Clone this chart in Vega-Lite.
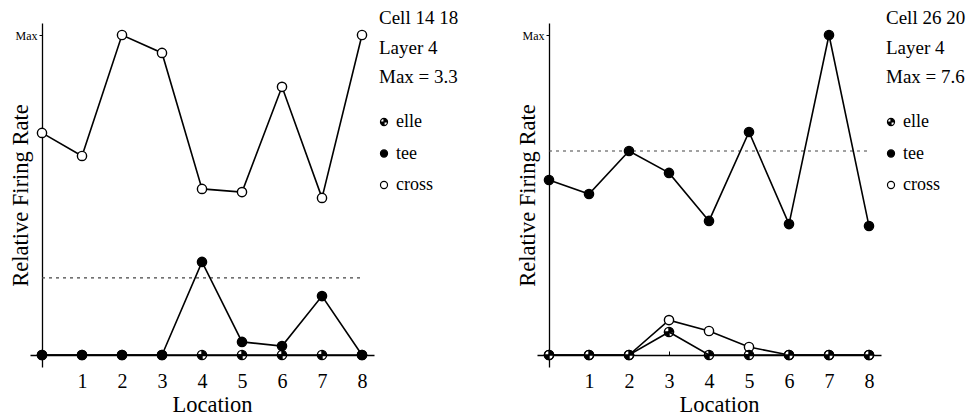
{
  "$schema": "https://vega.github.io/schema/vega-lite/v6.json",
  "padding": {"left": 9, "top": 9, "right": 0, "bottom": 6},
  "background": "white",
  "datasets": {
    "left": [
      {"location": 0, "series": "cross", "rate": 0.694},
      {"location": 1, "series": "cross", "rate": 0.622},
      {"location": 2, "series": "cross", "rate": 1.0},
      {"location": 3, "series": "cross", "rate": 0.944},
      {"location": 4, "series": "cross", "rate": 0.519},
      {"location": 5, "series": "cross", "rate": 0.509},
      {"location": 6, "series": "cross", "rate": 0.838},
      {"location": 7, "series": "cross", "rate": 0.491},
      {"location": 8, "series": "cross", "rate": 1.0},
      {"location": 0, "series": "elle", "rate": 0},
      {"location": 1, "series": "elle", "rate": 0},
      {"location": 2, "series": "elle", "rate": 0},
      {"location": 3, "series": "elle", "rate": 0},
      {"location": 4, "series": "elle", "rate": 0},
      {"location": 5, "series": "elle", "rate": 0},
      {"location": 6, "series": "elle", "rate": 0},
      {"location": 7, "series": "elle", "rate": 0},
      {"location": 8, "series": "elle", "rate": 0},
      {"location": 0, "series": "tee", "rate": 0},
      {"location": 1, "series": "tee", "rate": 0},
      {"location": 2, "series": "tee", "rate": 0},
      {"location": 3, "series": "tee", "rate": 0},
      {"location": 4, "series": "tee", "rate": 0.291},
      {"location": 5, "series": "tee", "rate": 0.041},
      {"location": 6, "series": "tee", "rate": 0.028},
      {"location": 7, "series": "tee", "rate": 0.184},
      {"location": 8, "series": "tee", "rate": 0}
    ],
    "right": [
      {"location": 0, "series": "cross", "rate": 0},
      {"location": 1, "series": "cross", "rate": 0},
      {"location": 2, "series": "cross", "rate": 0},
      {"location": 3, "series": "cross", "rate": 0.109},
      {"location": 4, "series": "cross", "rate": 0.075},
      {"location": 5, "series": "cross", "rate": 0.025},
      {"location": 6, "series": "cross", "rate": 0},
      {"location": 7, "series": "cross", "rate": 0},
      {"location": 8, "series": "cross", "rate": 0},
      {"location": 0, "series": "elle", "rate": 0},
      {"location": 1, "series": "elle", "rate": 0},
      {"location": 2, "series": "elle", "rate": 0},
      {"location": 3, "series": "elle", "rate": 0.072},
      {"location": 4, "series": "elle", "rate": 0},
      {"location": 5, "series": "elle", "rate": 0},
      {"location": 6, "series": "elle", "rate": 0},
      {"location": 7, "series": "elle", "rate": 0},
      {"location": 8, "series": "elle", "rate": 0},
      {"location": 0, "series": "tee", "rate": 0.547},
      {"location": 1, "series": "tee", "rate": 0.503},
      {"location": 2, "series": "tee", "rate": 0.6375},
      {"location": 3, "series": "tee", "rate": 0.569},
      {"location": 4, "series": "tee", "rate": 0.419},
      {"location": 5, "series": "tee", "rate": 0.697},
      {"location": 6, "series": "tee", "rate": 0.409},
      {"location": 7, "series": "tee", "rate": 1.0},
      {"location": 8, "series": "tee", "rate": 0.403}
    ]
  },
  "hconcat": [
    {
      "width": 344,
      "height": 344,
      "data": {"name": "left"},
      "layer": [
        {
          "data": {"values": [{"level": 0.241, "start": 0, "end": 8.05}]},
          "mark": {"type": "rule", "strokeDash": [3, 4], "color": "#444444", "strokeWidth": 1.2},
          "encoding": {
            "x": {"field": "start", "type": "quantitative", "title": "Location"},
            "x2": {"field": "end"},
            "y": {"field": "level", "type": "quantitative", "title": "Relative Firing Rate"}
          }
        },
        {
          "mark": {"type": "line", "color": "black", "strokeWidth": 1.6},
          "encoding": {
            "x": {"field": "location", "type": "quantitative", "title": "Location",
              "scale": {"domain": [-0.3, 8.3], "nice": false, "zero": false},
              "axis": {"orient": "bottom", "offset": -12, "values": [1, 2, 3, 4, 5, 6, 7, 8], "tickSize": -4, "labelPadding": 36, "labelBaseline": "alphabetic", "labelFontSize": 20, "titleFontSize": 22.5, "titleX": 182, "titleY": 56, "titleBaseline": "alphabetic", "domainWidth": 1.3, "labelAngle": 0}},
            "y": {"field": "rate", "type": "quantitative", "title": "Relative Firing Rate",
              "scale": {"domain": [-0.0375, 1.0375], "nice": false, "zero": false},
              "axis": {"orient": "left", "offset": -12, "values": [1], "labelExpr": "'Max'", "tickSize": 3, "labelPadding": 2, "labelFontSize": 12, "titleFontSize": 22.5, "titleX": -10, "domainWidth": 1.3}},
            "detail": {"field": "series"}
          }
        },
        {
          "mark": {"type": "point", "stroke": "black", "strokeWidth": 1.4, "size": 85, "opacity": 1},
          "encoding": {
            "x": {"field": "location", "type": "quantitative", "title": "Location"},
            "y": {"field": "rate", "type": "quantitative", "title": "Relative Firing Rate"},
            "shape": {"field": "series", "type": "nominal",
              "scale": {"domain": ["elle", "tee", "cross"], "range": ["M1,0A1,1,0,1,1,-1,0A1,1,0,1,1,1,0Z M0,0L0,-1A1,1,0,0,0,-1,0Z M0,0L0,1A1,1,0,0,0,1,0Z", "circle", "circle"]},
              "legend": {"orient": "none", "legendX": 349, "legendY": -14, "title": ["Cell 14 18", "Layer 4", "Max = 3.3"], "titleFontSize": 19, "titleFontWeight": "normal", "titleLineHeight": 29.5, "titlePadding": 26, "labelFontSize": 18, "symbolSize": 50, "rowPadding": 13.5, "labelOffset": 3, "symbolOffset": -4, "symbolStrokeWidth": 1.2, "padding": 0}},
            "fill": {"field": "series", "type": "nominal",
              "scale": {"domain": ["elle", "tee", "cross"], "range": ["black", "black", "white"]},
              "legend": {"orient": "none", "legendX": 349, "legendY": -14, "title": ["Cell 14 18", "Layer 4", "Max = 3.3"], "titleFontSize": 19, "titleFontWeight": "normal", "titleLineHeight": 29.5, "titlePadding": 26, "labelFontSize": 18, "symbolSize": 50, "rowPadding": 13.5, "labelOffset": 3, "symbolOffset": -4, "symbolStrokeWidth": 1.2, "padding": 0}}
          }
        }
      ]
    },
    {
      "width": 344,
      "height": 344,
      "data": {"name": "right"},
      "layer": [
        {
          "data": {"values": [{"level": 0.6375, "start": 0, "end": 8.05}]},
          "mark": {"type": "rule", "strokeDash": [3, 4], "color": "#444444", "strokeWidth": 1.2},
          "encoding": {
            "x": {"field": "start", "type": "quantitative", "title": "Location"},
            "x2": {"field": "end"},
            "y": {"field": "level", "type": "quantitative", "title": "Relative Firing Rate"}
          }
        },
        {
          "mark": {"type": "line", "color": "black", "strokeWidth": 1.6},
          "encoding": {
            "x": {"field": "location", "type": "quantitative", "title": "Location",
              "scale": {"domain": [-0.3, 8.3], "nice": false, "zero": false},
              "axis": {"orient": "bottom", "offset": -12, "values": [1, 2, 3, 4, 5, 6, 7, 8], "tickSize": -4, "labelPadding": 36, "labelBaseline": "alphabetic", "labelFontSize": 20, "titleFontSize": 22.5, "titleX": 182, "titleY": 56, "titleBaseline": "alphabetic", "domainWidth": 1.3, "labelAngle": 0}},
            "y": {"field": "rate", "type": "quantitative", "title": "Relative Firing Rate",
              "scale": {"domain": [-0.0375, 1.0375], "nice": false, "zero": false},
              "axis": {"orient": "left", "offset": -12, "values": [1], "labelExpr": "'Max'", "tickSize": 3, "labelPadding": 2, "labelFontSize": 12, "titleFontSize": 22.5, "titleX": -10, "domainWidth": 1.3}},
            "detail": {"field": "series"}
          }
        },
        {
          "mark": {"type": "point", "stroke": "black", "strokeWidth": 1.4, "size": 85, "opacity": 1},
          "encoding": {
            "x": {"field": "location", "type": "quantitative", "title": "Location"},
            "y": {"field": "rate", "type": "quantitative", "title": "Relative Firing Rate"},
            "shape": {"field": "series", "type": "nominal",
              "scale": {"domain": ["elle", "tee", "cross"], "range": ["M1,0A1,1,0,1,1,-1,0A1,1,0,1,1,1,0Z M0,0L0,-1A1,1,0,0,0,-1,0Z M0,0L0,1A1,1,0,0,0,1,0Z", "circle", "circle"]},
              "legend": {"orient": "none", "legendX": 349, "legendY": -14, "title": ["Cell 26 20", "Layer 4", "Max = 7.6"], "titleFontSize": 19, "titleFontWeight": "normal", "titleLineHeight": 29.5, "titlePadding": 26, "labelFontSize": 18, "symbolSize": 50, "rowPadding": 13.5, "labelOffset": 3, "symbolOffset": -4, "symbolStrokeWidth": 1.2, "padding": 0}},
            "fill": {"field": "series", "type": "nominal",
              "scale": {"domain": ["elle", "tee", "cross"], "range": ["black", "black", "white"]},
              "legend": {"orient": "none", "legendX": 349, "legendY": -14, "title": ["Cell 26 20", "Layer 4", "Max = 7.6"], "titleFontSize": 19, "titleFontWeight": "normal", "titleLineHeight": 29.5, "titlePadding": 26, "labelFontSize": 18, "symbolSize": 50, "rowPadding": 13.5, "labelOffset": 3, "symbolOffset": -4, "symbolStrokeWidth": 1.2, "padding": 0}}
          }
        }
      ]
    }
  ],
  "spacing": 163,
  "bounds": "flush",
  "resolve": {
    "scale": {"x": "independent", "y": "independent", "shape": "independent", "fill": "independent"},
    "legend": {"shape": "independent", "fill": "independent"}
  },
  "config": {
    "font": "Liberation Serif",
    "view": {"stroke": null},
    "axis": {"domainColor": "#000000", "tickColor": "#000000", "labelColor": "#000000", "titleColor": "#000000", "grid": false, "titleFontWeight": "normal", "labelFont": "Liberation Serif", "titleFont": "Liberation Serif"},
    "legend": {"labelFont": "Liberation Serif", "titleFont": "Liberation Serif", "labelColor": "#000000", "titleColor": "#000000"}
  }
}
